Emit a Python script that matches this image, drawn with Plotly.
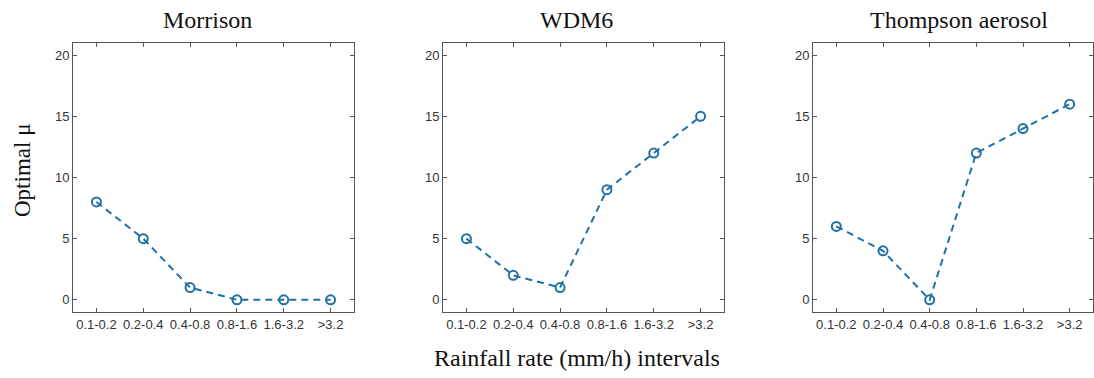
import plotly.graph_objects as go

categories = ["0.1-0.2", "0.2-0.4", "0.4-0.8", "0.8-1.6", "1.6-3.2", ">3.2"]
panel_titles = ["Morrison", "WDM6", "Thompson aerosol"]
morrison = [8, 5, 1, 0, 0, 0]
wdm6 = [5, 2, 1, 9, 12, 15]
thompson = [6, 4, 0, 12, 14, 16]
series = [morrison, wdm6, thompson]
y_ticks = [0, 5, 10, 15, 20]

W, H = 1094, 378
lefts = [73, 443, 813]
rights = [354, 724, 1093]
top_px, bot_px = 43, 312
title_cx = [207, 576, 959]

line_color = "#2171a6"
axis_color = "#555555"
tick_font = dict(family="Liberation Sans, Arial", size=13, color="#333333")
serif = "Liberation Serif, Times New Roman"

fig = go.Figure()
xpos = list(range(1, len(categories) + 1))
for i, vals in enumerate(series):
    sfx = "" if i == 0 else str(i + 1)
    fig.add_trace(go.Scatter(
        x=xpos, y=vals, mode="lines+markers",
        xaxis="x" + sfx, yaxis="y" + sfx,
        line=dict(color=line_color, width=2, dash="7px,5px"),
        marker=dict(symbol="circle-open", size=9, color=line_color, line=dict(width=2, color=line_color)),
        showlegend=False, hoverinfo="skip"))
    dom_x = [lefts[i] / W, rights[i] / W]
    dom_y = [1 - bot_px / H, 1 - top_px / H]
    common = dict(showline=True, linecolor=axis_color, linewidth=1, mirror="ticks",
                  ticks="inside", ticklen=4, tickcolor=axis_color, showgrid=False,
                  zeroline=False, tickfont=tick_font)
    fig.update_layout(**{
        "xaxis" + sfx: dict(domain=dom_x, range=[0.5, 6.5], tickmode="array",
                            tickvals=xpos, ticktext=categories, anchor="y" + sfx, **common),
        "yaxis" + sfx: dict(domain=dom_y, range=[-1, 21], tickmode="array",
                            tickvals=y_ticks, anchor="x" + sfx, **common),
    })
    fig.add_annotation(text=panel_titles[i], x=title_cx[i] / W, y=1 - 20 / H,
                       xref="paper", yref="paper", showarrow=False,
                       font=dict(family=serif, size=24, color="#111111"),
                       xanchor="center", yanchor="middle")

fig.add_annotation(text="Optimal μ", x=23 / W, y=1 - 171 / H, xref="paper", yref="paper",
                   showarrow=False, textangle=-90,
                   font=dict(family=serif, size=23, color="#111111"),
                   xanchor="center", yanchor="middle")
fig.add_annotation(text="Rainfall rate (mm/h) intervals", x=577 / W, y=1 - 358 / H,
                   xref="paper", yref="paper", showarrow=False,
                   font=dict(family=serif, size=24, color="#111111"),
                   xanchor="center", yanchor="middle")

fig.update_layout(width=W, height=H, margin=dict(l=0, r=0, t=0, b=0),
                  paper_bgcolor="white", plot_bgcolor="white")
fig.write_html("out.html")
